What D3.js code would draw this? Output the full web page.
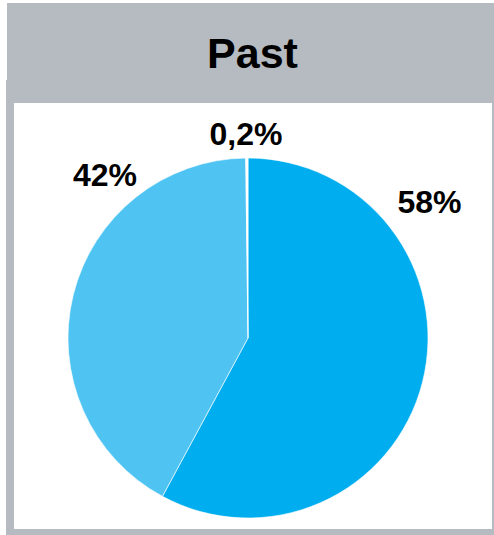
<!DOCTYPE html>
<html>
<head>
<meta charset="utf-8">
<script src="https://cdn.jsdelivr.net/npm/d3@7"></script>
<style>
  html, body { margin: 0; padding: 0; background: #ffffff; }
  svg { display: block; }
  text { font-family: "Liberation Sans", Arial, sans-serif; font-weight: bold; fill: #000; }
</style>
</head>
<body>
<script>
// Share of responses, clockwise from twelve o'clock
const categories = ["A", "B", "C"];
const values = [58, 42, 0.2];
const labels = ["58%", "42%", "0,2%"];
const colors = ["#00aeef", "#4fc4f2", "#ffffff"];
const title = "Past";

const W = 494, H = 535;
const svg = d3.select("body").append("svg").attr("width", W).attr("height", H);

// Frame: grey header band and grey-bordered white panel
svg.append("rect").attr("x", 7).attr("y", 3).attr("width", W - 7).attr("height", 80).attr("fill", "#b6bac1");
svg.append("rect").attr("x", 6).attr("y", 80).attr("width", W - 6).attr("height", H - 80).attr("fill", "#b6bac1");
svg.append("rect").attr("x", 14).attr("y", 103).attr("width", 478).attr("height", 426).attr("fill", "#ffffff");

svg.append("text")
  .attr("x", 252.5).attr("y", 68)
  .attr("text-anchor", "middle")
  .style("font-size", "43px")
  .text(title);

const cx = 248, cy = 338, r = 180;
const g = svg.append("g").attr("transform", `translate(${cx},${cy})`);

const pie = d3.pie().sort(null).value(d => d.v);
const data = pie(categories.map((c, i) => ({ c, v: values[i], label: labels[i], color: colors[i] })));
const arc = d3.arc().innerRadius(0).outerRadius(r);

g.selectAll("path").data(data).join("path")
  .attr("d", arc)
  .attr("fill", d => d.data.color)
  .attr("stroke", "#ffffff")
  .attr("stroke-width", 0.6);

// Percentage labels placed outside the rim
const labelPos = [
  { x: 429.5, y: 213 },
  { x: 105, y: 186 },
  { x: 246, y: 145 }
];
svg.selectAll("text.lbl").data(data).join("text")
  .attr("class", "lbl")
  .attr("x", (d, i) => labelPos[i].x)
  .attr("y", (d, i) => labelPos[i].y)
  .attr("text-anchor", "middle")
  .style("font-size", "32px")
  .text(d => d.data.label);
</script>
</body>
</html>
